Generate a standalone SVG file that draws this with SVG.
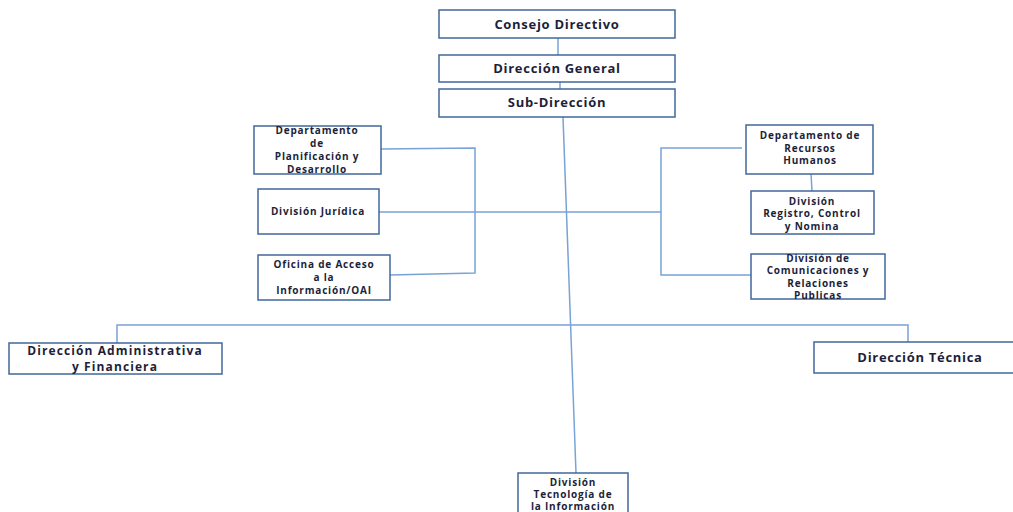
<svg xmlns="http://www.w3.org/2000/svg" width="1013" height="512" viewBox="0 0 1013 512">
<style>
.box{fill:#fff;stroke:#41679a;stroke-width:1.5}
.ln{fill:none;stroke:#79a3d6;stroke-width:1.5}
text{font-family:"Open Sans","Liberation Sans",sans-serif;font-weight:700;fill:#1d1f3a;text-anchor:middle}
.big{font-size:13px;letter-spacing:0.7px}
.adm{font-size:12px;letter-spacing:1.1px}
.sm{font-size:10px;letter-spacing:0.8px}
</style>
<rect width="1013" height="512" fill="#fff"/>
<g id="connectors">
<line class="ln" x1="558" y1="38" x2="558" y2="55"/>
<line class="ln" x1="560" y1="82" x2="560" y2="89"/>
<line class="ln" x1="563" y1="117" x2="576" y2="473"/>
<polyline class="ln" points="381,149 475,148 475,273 390,275"/>
<line class="ln" x1="379" y1="212" x2="661" y2="212"/>
<polyline class="ln" points="742,148 661,148 661,275 751,275"/>
<line class="ln" x1="811" y1="174" x2="812" y2="191"/>
<polyline class="ln" points="117,343 117,325 908,325 908,342"/>
</g>
<g id="consejo"><rect class="box" x="439" y="10" width="236" height="28"/><text class="big" x="557" y="29">Consejo Directivo</text></g>
<g id="direccion-general"><rect class="box" x="439" y="55" width="236" height="27"/><text class="big" x="557" y="73">Dirección General</text></g>
<g id="sub-direccion"><rect class="box" x="439" y="89" width="236" height="28"/><text class="big" x="557" y="107">Sub-Dirección</text></g>
<g id="planificacion"><rect class="box" x="254" y="126" width="127" height="48"/><text class="sm" x="317" y="134">Departamento</text><text class="sm" x="317" y="147">de</text><text class="sm" x="317" y="160">Planificación y</text><text class="sm" x="317" y="173">Desarrollo</text></g>
<g id="juridica"><rect class="box" x="258" y="189" width="121" height="45"/><text class="sm" x="318" y="215">División Jurídica</text></g>
<g id="oai"><rect class="box" x="258" y="255" width="132" height="45"/><text class="sm" x="324" y="268">Oficina de Acceso</text><text class="sm" x="324" y="281">a la</text><text class="sm" x="324" y="294">Información/OAI</text></g>
<g id="rrhh"><rect class="box" x="746" y="125" width="127" height="49"/><text class="sm" x="810" y="139">Departamento de</text><text class="sm" x="810" y="151.5">Recursos</text><text class="sm" x="810" y="164">Humanos</text></g>
<g id="registro"><rect class="box" x="751" y="191" width="123" height="43"/><text class="sm" x="812" y="205">División</text><text class="sm" x="812" y="217">Registro, Control</text><text class="sm" x="812" y="230">y Nomina</text></g>
<g id="comunicaciones"><rect class="box" x="751" y="254" width="134" height="45"/><text class="sm" x="818" y="262">División de</text><text class="sm" x="818" y="274">Comunicaciones y</text><text class="sm" x="818" y="287">Relaciones</text><text class="sm" x="818" y="299">Publicas</text></g>
<g id="administrativa"><rect class="box" x="9" y="343" width="213" height="31"/><text class="adm" x="115" y="355">Dirección Administrativa</text><text class="adm" x="115" y="371">y Financiera</text></g>
<g id="tecnica"><rect class="box" x="814" y="342" width="205" height="31"/><text class="big" x="920" y="362">Dirección Técnica</text></g>
<g id="tecnologia"><rect class="box" x="518" y="473" width="110" height="45"/><text class="sm" x="573" y="486">División</text><text class="sm" x="573" y="498">Tecnología de</text><text class="sm" x="573" y="510">la Información</text></g>
</svg>
